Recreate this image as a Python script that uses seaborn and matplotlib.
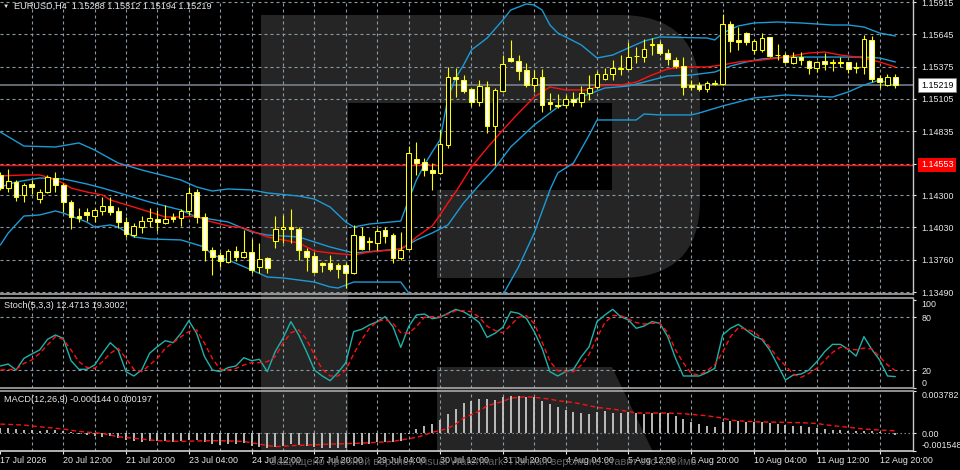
import numpy as np
import matplotlib
matplotlib.use("Agg")
import matplotlib.pyplot as plt
import matplotlib.transforms as mtransforms
from matplotlib.path import Path
from matplotlib.patches import PathPatch
import seaborn as sns

# ---------------- data ----------------
symbol_title = "EURUSD,H4  1.15288 1.15312 1.15194 1.15219"
stoch_title = "Stoch(5,3,3) 12.4713 19.3002"
macd_title = "MACD(12,26,9) -0.000144 0.000197"
watermark_text = "Защищено пробной версией Visual Watermark. Полная версия не ставит это клеймо."

open_ = [1.14469, 1.14360, 1.14410, 1.14302, 1.14394, 1.14268, 1.14327, 1.14444, 1.14385, 1.14243,
         1.14126, 1.14160, 1.14126, 1.14168, 1.14210, 1.14168, 1.14076, 1.13967, 1.14034, 1.14084,
         1.14101, 1.14068, 1.14118, 1.14110, 1.14168, 1.14327, 1.14118, 1.13842, 1.13800, 1.13742,
         1.13834, 1.13783, 1.13825, 1.13700, 1.13775, 1.13917, 1.14018, 1.14034, 1.14018, 1.13834,
         1.13792, 1.13733, 1.13733, 1.13717, 1.13717, 1.13650, 1.13959, 1.13909, 1.13901, 1.14009,
         1.13967, 1.13775, 1.13850, 1.14603, 1.14578, 1.14511, 1.14486, 1.14720, 1.15288, 1.15263,
         1.15188, 1.15079, 1.15205, 1.14879, 1.15171, 1.15447, 1.15422, 1.15347, 1.15221, 1.15288,
         1.15079, 1.15054, 1.15054, 1.15104, 1.15079, 1.15155, 1.15205, 1.15272, 1.15313, 1.15355,
         1.15355, 1.15464, 1.15455, 1.15556, 1.15564, 1.15489, 1.15430, 1.15380, 1.15221, 1.15221,
         1.15188, 1.15230, 1.15230, 1.15731, 1.15598, 1.15656, 1.15514, 1.15514, 1.15623, 1.15472,
         1.15472, 1.15405, 1.15455, 1.15422, 1.15364, 1.15422, 1.15405, 1.15410, 1.15414, 1.15372,
         1.15372, 1.15598, 1.15280, 1.15221, 1.15288]
high_ = [1.14494, 1.14519, 1.14427, 1.14402, 1.14427, 1.14352, 1.14469, 1.14494, 1.14402, 1.14260,
         1.14193, 1.14193, 1.14193, 1.14285, 1.14285, 1.14201, 1.14118, 1.14068, 1.14126, 1.14193,
         1.14176, 1.14218, 1.14151, 1.14185, 1.14369, 1.14352, 1.14151, 1.13867, 1.13825, 1.13850,
         1.13875, 1.14009, 1.13934, 1.13901, 1.13783, 1.14126, 1.14135, 1.14185, 1.14034, 1.13859,
         1.13825, 1.13742, 1.13800, 1.13733, 1.13733, 1.14051, 1.14034, 1.13951, 1.14026, 1.14034,
         1.13984, 1.13992, 1.14711, 1.14745, 1.14611, 1.14569, 1.14845, 1.15372, 1.15364, 1.15305,
         1.15196, 1.15263, 1.15255, 1.15196, 1.15472, 1.15598, 1.15472, 1.15405, 1.15347, 1.15355,
         1.15155, 1.15146, 1.15138, 1.15163, 1.15213, 1.15305, 1.15338, 1.15364, 1.15430, 1.15472,
         1.15581, 1.15539, 1.15606, 1.15614, 1.15589, 1.15522, 1.15455, 1.15455, 1.15263, 1.15246,
         1.15255, 1.15263, 1.15815, 1.15756, 1.15706, 1.15664, 1.15606, 1.15656, 1.15623, 1.15564,
         1.15489, 1.15497, 1.15497, 1.15430, 1.15422, 1.15489, 1.15439, 1.15455, 1.15414, 1.15414,
         1.15639, 1.15631, 1.15305, 1.15313, 1.15312]
low_ = [1.14344, 1.14327, 1.14252, 1.14243, 1.14310, 1.14235, 1.14319, 1.14327, 1.14160, 1.14018,
        1.14076, 1.14084, 1.14076, 1.14135, 1.14135, 1.14026, 1.13951, 1.13951, 1.13984, 1.14034,
        1.14001, 1.14059, 1.14076, 1.14043, 1.14135, 1.14068, 1.13750, 1.13633, 1.13700, 1.13733,
        1.13750, 1.13775, 1.13650, 1.13650, 1.13650, 1.13859, 1.13901, 1.13901, 1.13758, 1.13666,
        1.13650, 1.13658, 1.13666, 1.13608, 1.13524, 1.13641, 1.13842, 1.13842, 1.13842, 1.13901,
        1.13733, 1.13758, 1.13842, 1.14469, 1.14461, 1.14344, 1.14477, 1.14695, 1.15121, 1.15155,
        1.15046, 1.15046, 1.14820, 1.14553, 1.15163, 1.15414, 1.15263, 1.15205, 1.15163, 1.14996,
        1.15012, 1.15029, 1.15029, 1.15046, 1.15037, 1.15096, 1.15196, 1.15263, 1.15263, 1.15305,
        1.15347, 1.15405, 1.15414, 1.15472, 1.15472, 1.15389, 1.15364, 1.15138, 1.15180, 1.15171,
        1.15163, 1.15221, 1.15221, 1.15497, 1.15514, 1.15556, 1.15481, 1.15497, 1.15455, 1.15430,
        1.15405, 1.15397, 1.15389, 1.15313, 1.15330, 1.15347, 1.15338, 1.15372, 1.15322, 1.15322,
        1.15313, 1.15246, 1.15196, 1.15213, 1.15194]
close_ = [1.14360, 1.14419, 1.14285, 1.14385, 1.14369, 1.14327, 1.14452, 1.14385, 1.14243, 1.14118,
          1.14110, 1.14135, 1.14176, 1.14210, 1.14160, 1.14076, 1.13976, 1.14043, 1.14084, 1.14110,
          1.14076, 1.14101, 1.14101, 1.14168, 1.14319, 1.14118, 1.13842, 1.13783, 1.13750, 1.13834,
          1.13783, 1.13825, 1.13675, 1.13767, 1.13692, 1.14018, 1.14034, 1.14018, 1.13842, 1.13783,
          1.13658, 1.13717, 1.13683, 1.13683, 1.13650, 1.13967, 1.13850, 1.13917, 1.14001, 1.13959,
          1.13775, 1.13842, 1.14653, 1.14569, 1.14511, 1.14486, 1.14728, 1.15288, 1.15272, 1.15171,
          1.15079, 1.15213, 1.14879, 1.15180, 1.15397, 1.15422, 1.15338, 1.15221, 1.15280, 1.15054,
          1.15063, 1.15046, 1.15104, 1.15079, 1.15155, 1.15196, 1.15313, 1.15313, 1.15364, 1.15364,
          1.15455, 1.15462, 1.15522, 1.15564, 1.15489, 1.15439, 1.15380, 1.15205, 1.15205, 1.15188,
          1.15238, 1.15238, 1.15731, 1.15589, 1.15581, 1.15581, 1.15589, 1.15614, 1.15464, 1.15468,
          1.15414, 1.15455, 1.15430, 1.15364, 1.15414, 1.15397, 1.15414, 1.15405, 1.15355, 1.15364,
          1.15606, 1.15272, 1.15246, 1.15288, 1.15219]

# Bollinger bands and moving average (sampled at bar indices)
bb_up_bar = [0, 3, 7, 10, 12, 15, 18, 21, 23, 25, 27, 29, 32, 34, 38, 40, 42, 44, 45, 47, 51, 52, 53, 54, 55,
             56, 57, 58, 59, 60, 62, 64, 65, 67, 68, 69, 70, 71, 72, 74, 76, 78, 80, 82, 84, 90, 91, 92, 94, 96,
             99, 102, 106, 108, 110, 112, 114]
bb_up = [1.14828, 1.14711, 1.14703, 1.14737, 1.14678, 1.14569, 1.14511, 1.14461, 1.14427, 1.14369,
         1.14335, 1.14352, 1.14344, 1.14319, 1.14293, 1.14268, 1.14201, 1.14076, 1.14034, 1.14059,
         1.14084, 1.14260, 1.14427, 1.14553, 1.14661, 1.14762, 1.15113, 1.15280, 1.15389, 1.15514,
         1.15614, 1.15765, 1.15848, 1.15899, 1.15890, 1.15848, 1.15723, 1.15656, 1.15623, 1.15556,
         1.15447, 1.15472, 1.15531, 1.15589, 1.15623, 1.15614, 1.15598, 1.15656, 1.15715, 1.15740,
         1.15748, 1.15740, 1.15723, 1.15723, 1.15706, 1.15656, 1.15631]
bb_mid_bar = [0, 2, 5, 8, 11, 13, 16, 19, 23, 25, 29, 32, 34, 38, 42, 45, 48, 51, 53, 55, 57, 59, 61, 63, 65,
              68, 71, 74, 77, 80, 82, 85, 88, 91, 93, 95, 97, 100, 104, 107, 110, 112, 114]
bb_mid = [1.14369, 1.14410, 1.14444, 1.14436, 1.14394, 1.14360, 1.14302, 1.14243, 1.14176, 1.14118,
          1.14076, 1.13993, 1.13967, 1.13951, 1.13867, 1.13817, 1.13834, 1.13850, 1.13926, 1.13984,
          1.14051, 1.14235, 1.14385, 1.14528, 1.14703, 1.14887, 1.15037, 1.15121, 1.15196, 1.15213,
          1.15246, 1.15297, 1.15305, 1.15330, 1.15380, 1.15414, 1.15439, 1.15455, 1.15455, 1.15455,
          1.15455, 1.15447, 1.15414]
bb_low_bar = [0, 1, 3, 5, 7, 8, 11, 12, 14, 15, 17, 19, 23, 26, 27, 29, 32, 34, 36, 38, 40, 42, 43, 44, 45,
              51, 52, 53, 56, 60, 63, 64, 66, 68, 70, 71, 73, 75, 76, 81, 82, 84, 88, 89, 92, 96, 100, 106,
              108, 110, 112, 114]
bb_low = [1.13884, 1.13984, 1.14126, 1.14135, 1.14168, 1.14151, 1.14076, 1.14034, 1.14051, 1.14034,
          1.13951, 1.13934, 1.13926, 1.13867, 1.13800, 1.13758, 1.13675, 1.13616, 1.13608, 1.13591,
          1.13574, 1.13533, 1.13524, 1.13549, 1.13574, 1.13574, 1.13483, 1.13382, 1.13274, 1.13240,
          1.13382, 1.13466, 1.13700, 1.13984, 1.14344, 1.14486, 1.14569, 1.14803, 1.14929, 1.14929,
          1.14979, 1.14971, 1.14971, 1.14987, 1.15046, 1.15113, 1.15138, 1.15121, 1.15163, 1.15221,
          1.15263, 1.15213]
ma_bar = [0, 3, 5, 6, 8, 9, 11, 13, 14, 17, 19, 21, 23, 25, 26, 29, 31, 34, 36, 38, 40, 42, 45, 47, 51,
          52, 53, 55, 56, 57, 58, 60, 62, 64, 66, 68, 70, 72, 75, 76, 79, 81, 83, 85, 87, 90, 92, 94, 97,
          100, 103, 105, 107, 110, 112, 114]
ma_red = [1.14461, 1.14469, 1.14469, 1.14452, 1.14402, 1.14360, 1.14327, 1.14302, 1.14260, 1.14201,
          1.14160, 1.14118, 1.14118, 1.14126, 1.14093, 1.14043, 1.14026, 1.13951, 1.13926, 1.13901,
          1.13834, 1.13817, 1.13800, 1.13825, 1.13850, 1.13892, 1.13951, 1.14043, 1.14135, 1.14235,
          1.14327, 1.14536, 1.14695, 1.14845, 1.14987, 1.15121, 1.15205, 1.15180, 1.15180, 1.15213,
          1.15221, 1.15246, 1.15305, 1.15355, 1.15372, 1.15372, 1.15389, 1.15414, 1.15430, 1.15455,
          1.15489, 1.15497, 1.15472, 1.15447, 1.15414, 1.15372]

stoch_main = [24.6, 26.8, 20.0, 33.3, 38.2, 42.8, 54.9, 59.9, 56.1, 30.6,
              20.8, 20.8, 25.7, 39.0, 51.1, 42.8, 18.1, 13.2, 20.0, 39.0,
              46.6, 53.4, 51.1, 61.8, 76.2, 61.8, 35.2, 20.0, 18.1, 22.7,
              24.6, 34.0, 30.6, 32.2, 18.1, 40.9, 56.1, 75.1, 59.9, 40.9,
              20.0, 13.2, 7.8, 17.0, 28.4, 63.7, 66.3, 71.3, 75.1, 80.8,
              69.4, 45.8, 69.4, 82.7, 83.8, 78.5, 80.0, 84.6, 89.1, 86.4,
              81.0, 74.0, 57.2, 61.8, 68.6, 86.4, 84.6, 78.9, 63.7, 44.7,
              18.1, 13.2, 18.1, 20.8, 35.2, 46.6, 75.1, 82.7, 89.1, 80.8,
              77.0, 67.5, 70.1, 75.1, 73.2, 58.0, 33.3, 13.2, 13.2, 13.2,
              17.0, 21.9, 59.9, 67.5, 72.0, 65.6, 58.7, 54.9, 42.8, 25.7,
              8.6, 14.3, 15.4, 20.0, 29.5, 40.9, 49.2, 49.2, 43.5, 35.9,
              58.0, 43.5, 31.4, 13.2, 12.4713]
stoch_signal = [20.0, 20.4, 20.8, 27.6, 31.4, 39.0, 48.5, 58.0, 55.0, 42.8,
                29.5, 23.0, 21.9, 29.5, 39.0, 44.7, 33.3, 20.8, 18.1, 25.7,
                33.3, 44.7, 51.1, 58.0, 63.7, 65.6, 50.4, 33.3, 20.8, 20.0,
                21.9, 25.7, 28.4, 28.4, 29.5, 35.2, 50.4, 62.5, 65.6, 54.9,
                37.1, 20.8, 13.2, 13.2, 20.0, 38.2, 54.2, 67.5, 75.1, 77.7,
                73.2, 62.5, 61.8, 69.4, 80.0, 80.8, 80.8, 83.8, 87.6, 87.6,
                86.4, 80.0, 70.0, 65.0, 62.5, 71.0, 80.0, 82.0, 73.0, 52.0,
                30.0, 19.0, 18.0, 18.1, 25.7, 38.0, 57.0, 74.0, 82.0, 82.0,
                78.0, 74.0, 72.4, 73.2, 73.2, 62.5, 43.0, 28.0, 16.0, 14.3,
                19.0, 26.0, 40.0, 58.0, 68.0, 67.0, 63.0, 56.0, 46.0, 34.0,
                25.0, 15.4, 11.6, 16.2, 21.9, 31.0, 40.0, 46.0, 44.0, 43.0,
                45.0, 44.0, 35.0, 26.0, 19.3002]

macd_main = [0.00044, 0.00041, 0.00036, 0.00030, 0.00027, 0.00021, 0.00027, 0.00030, 0.00021, 0.00006,
             -0.00009, -0.00018, -0.00024, -0.00033, -0.00030, -0.00044, -0.00062, -0.00074, -0.00077, -0.00074,
             -0.00074, -0.00074, -0.00077, -0.00074, -0.00062, -0.00062, -0.00083, -0.00098, -0.00104, -0.00098,
             -0.00098, -0.00092, -0.00112, -0.00121, -0.00133, -0.00127, -0.00118, -0.00098, -0.00104, -0.00112,
             -0.00127, -0.00133, -0.00136, -0.00133, -0.00136, -0.00112, -0.00104, -0.00098, -0.00083, -0.00077,
             -0.00083, -0.00074, -0.00009, 0.00036, 0.00065, 0.00080, 0.00115, 0.00169, 0.00213, 0.00263,
             0.00287, 0.00302, 0.00302, 0.00293, 0.00317, 0.00329, 0.00332, 0.00323, 0.00317, 0.00287,
             0.00258, 0.00228, 0.00204, 0.00189, 0.00178, 0.00169, 0.00189, 0.00192, 0.00175, 0.00178,
             0.00184, 0.00178, 0.00169, 0.00175, 0.00175, 0.00175, 0.00154, 0.00124, 0.00095, 0.00080,
             0.00065, 0.00056, 0.00095, 0.00110, 0.00104, 0.00095, 0.00095, 0.00095, 0.00086, 0.00080,
             0.00071, 0.00065, 0.00059, 0.00050, 0.00044, 0.00036, 0.00030, 0.00027, 0.00021, 0.00015,
             0.00021, 0.00015, 0.00006, -0.00003, -0.000144]
macd_sig_bar = [0, 3, 5, 8, 10, 13, 15, 18, 20, 23, 26, 28, 31, 33, 35, 37, 40, 42, 45, 47, 50, 51, 53, 54, 55,
                57, 58, 59, 61, 62, 64, 65, 67, 68, 70, 71, 73, 74, 75, 76, 78, 80, 81, 83, 85, 87, 88, 90, 92,
                93, 95, 97, 98, 100, 102, 104, 105, 107, 109, 110, 112, 114]
macd_signal = [0.00080, 0.00071, 0.00056, 0.00036, 0.00015, -0.00003, -0.00033, -0.00053, -0.00068, -0.00074,
               -0.00068, -0.00068, -0.00074, -0.00098, -0.00121, -0.00112, -0.00104, -0.00098, -0.00092, -0.00086,
               -0.00074, -0.00062, -0.00038, -0.00018, 0.00006, 0.00041, 0.00080, 0.00133, 0.00195, 0.00243,
               0.00281, 0.00311, 0.00323, 0.00317, 0.00302, 0.00287, 0.00272, 0.00258, 0.00243, 0.00228,
               0.00213, 0.00192, 0.00178, 0.00178, 0.00178, 0.00172, 0.00166, 0.00154, 0.00133, 0.00115,
               0.00104, 0.00098, 0.00098, 0.00095, 0.00092, 0.00086, 0.00074, 0.00059, 0.00044, 0.00036,
               0.00027, 0.000197]

price_grid = [1.15915, 1.15645, 1.15375, 1.15105, 1.14835, 1.14565, 1.14300, 1.14030, 1.13760, 1.13490]
price_labels = ["1.15915", "1.15645", "1.15375", "1.15105", "1.14835", "", "1.14300", "1.14030", "1.13760", "1.13490"]
bid_price = 1.15219
level_price = 1.14553
time_label_bar = [0, 8, 16, 24, 32, 40, 48, 56, 64, 72, 80, 88, 96, 104, 112]
time_labels = ["17 Jul 2026", "20 Jul 12:00", "21 Jul 20:00", "23 Jul 04:00", "24 Jul 12:00",
               "27 Jul 20:00", "29 Jul 04:00", "30 Jul 12:00", "31 Jul 20:00", "4 Aug 04:00",
               "5 Aug 12:00", "6 Aug 20:00", "10 Aug 04:00", "11 Aug 12:00", "12 Aug 20:00"]
stoch_ticks = [0, 20, 80, 100]
macd_ticks = [-0.001548, 0.0, 0.003782]
macd_tick_labels = ["-0.001548", "0.00", "0.003782"]

# ---------------- style ----------------
sns.set_theme(style="dark", rc={"axes.facecolor": "none", "figure.facecolor": "black",
                                "axes.grid": False, "axes.edgecolor": "#b4b4b4"})
plt.rcParams["font.family"] = ["Liberation Sans", "DejaVu Sans"]

YELLOW = "#ffff00"
BLUE = "#1c9ad6"
RED = "#ff1010"
GRID = "#8c98a4"
TXT = "#e8e8e8"
FS = 6.4

W, H = 960, 470
fig = plt.figure(figsize=(9.6, 4.7), dpi=100)
fig.patch.set_facecolor("black")


def frame(top, bottom, right=913):
    return [0, 1 - bottom / H, right / W, (bottom - top) / H]


ax1 = fig.add_axes(frame(0, 294))
ax2 = fig.add_axes(frame(297.5, 388), sharex=ax1)
ax3 = fig.add_axes(frame(390.5, 450.5), sharex=ax1)

# watermark logo (decorative, in figure pixels)
pix = mtransforms.Affine2D().scale(1 / W, -1 / H).translate(0, 1) + fig.transFigure
verts = [(261, 15), (620, 15), (700, 15), (700, 95), (700, 200), (700, 278), (620, 278),
         (437, 278), (437, 190), (612, 190), (612, 103), (348, 103), (348, 452), (261, 452), (261, 15)]
codes = [Path.MOVETO, Path.LINETO, Path.CURVE3, Path.CURVE3, Path.LINETO, Path.CURVE3, Path.CURVE3,
         Path.LINETO, Path.LINETO, Path.LINETO, Path.LINETO, Path.LINETO, Path.LINETO, Path.LINETO,
         Path.CLOSEPOLY]
logo = PathPatch(Path(verts, codes), facecolor="#252525", edgecolor="none", transform=pix, zorder=-5)
leg = PathPatch(Path([(437, 367), (612, 367), (653, 452), (437, 452), (437, 367)],
                     [Path.MOVETO, Path.LINETO, Path.LINETO, Path.LINETO, Path.CLOSEPOLY]),
                facecolor="#252525", edgecolor="none", transform=pix, zorder=-5)
fig.patches.extend([logo, leg])

bars = np.arange(len(open_))
O = np.array(open_); Hh = np.array(high_); L = np.array(low_); C = np.array(close_)
vgrid = np.arange(4, 113, 4)


def grid_style(ax):
    for v in vgrid:
        ax.axvline(v, color=GRID, lw=0.8, ls=(0, (2.7, 2.7)), zorder=1)


# ---------------- main price panel ----------------
grid_style(ax1)
for p in price_grid:
    ax1.axhline(p, color=GRID, lw=0.8, ls=(0, (2.7, 2.7)), zorder=1)
ax1.axhline(bid_price, color="#7d8793", lw=1.1, zorder=2)
ax1.axhline(level_price, color=RED, lw=1.0, zorder=2)

sns.lineplot(x=bb_up_bar, y=bb_up, ax=ax1, color=BLUE, lw=1.0, zorder=3)
sns.lineplot(x=bb_mid_bar, y=bb_mid, ax=ax1, color=BLUE, lw=1.0, zorder=3)
sns.lineplot(x=bb_low_bar, y=bb_low, ax=ax1, color=BLUE, lw=1.0, zorder=3)
sns.lineplot(x=ma_bar, y=ma_red, ax=ax1, color=RED, lw=1.0, zorder=3)

ax1.vlines(bars, L, Hh, color=YELLOW, lw=0.8, zorder=4)
lo = np.minimum(O, C)
hgt = np.maximum(np.abs(C - O), 0.00002)
bull = C >= O
ax1.bar(bars[bull], hgt[bull], bottom=lo[bull], width=0.6, facecolor="black",
        edgecolor=YELLOW, lw=0.75, zorder=5)
ax1.bar(bars[~bull], hgt[~bull], bottom=lo[~bull], width=0.6, facecolor="white",
        edgecolor=YELLOW, lw=0.75, zorder=5)

ax1.set_ylim(1.13474, 1.15932)
ax1.set_xlim(-0.05, 116.25)
ax1.yaxis.tick_right()
ax1.set_yticks(price_grid)
ax1.set_yticklabels(price_labels)
ax1.tick_params(axis="y", right=True, left=False, labelright=True, labelleft=False, length=2.5,
                width=0.8, pad=3.4, labelsize=FS, colors=TXT)
ax1.tick_params(axis="x", bottom=False, labelbottom=False)

ytr = mtransforms.blended_transform_factory(ax1.transAxes, ax1.transData)
ax1.text(1 + 8 / 913, bid_price, "1.15219", transform=ytr, fontsize=FS, color="black", va="center",
         ha="left", bbox=dict(boxstyle="square,pad=0.3", facecolor="white", edgecolor="#808080", lw=0.6),
         zorder=10, clip_on=False)
ax1.text(1 + 8 / 913, level_price, "1.14553", transform=ytr, fontsize=FS, color="white", va="center",
         ha="left", bbox=dict(boxstyle="square,pad=0.3", facecolor="#ff0000", edgecolor="none"),
         zorder=10, clip_on=False)

# ---------------- stochastic panel ----------------
grid_style(ax2)
for v in (20, 80):
    ax2.axhline(v, color=GRID, lw=0.8, ls=(0, (2.7, 2.7)), zorder=1)
sns.lineplot(x=bars, y=stoch_main, ax=ax2, color="#20b2aa", lw=1.0, zorder=3)
sns.lineplot(x=bars, y=stoch_signal, ax=ax2, color=RED, lw=1.0, zorder=3)
ax2.lines[-1].set_linestyle((0, (3.5, 2.2)))
ax2.set_ylim(-0.5, 102.6)
ax2.yaxis.tick_right()
ax2.set_yticks(stoch_ticks)
ax2.set_yticklabels([str(t) for t in stoch_ticks])
ax2.tick_params(axis="y", right=True, left=False, labelright=True, labelleft=False, length=2.5,
                width=0.8, pad=3.4, labelsize=FS, colors=TXT)
ax2.tick_params(axis="x", bottom=False, labelbottom=False)
tl = ax2.get_yticklabels()
tl[0].set_va("bottom")
tl[-1].set_va("top")

# ---------------- MACD panel ----------------
grid_style(ax3)
ax3.axhline(0, color=GRID, lw=0.8, ls=(0, (1.2, 2.4)), zorder=1)
ax3.vlines(bars, 0, macd_main, color="#c8c8c8", lw=1.3, zorder=3)
sns.lineplot(x=macd_sig_bar, y=macd_signal, ax=ax3, color=RED, lw=1.0, zorder=4)
ax3.lines[-1].set_linestyle((0, (3.5, 2.2)))
ax3.set_ylim(-0.001548, 0.003782)
ax3.yaxis.tick_right()
ax3.set_yticks(macd_ticks)
ax3.set_yticklabels(macd_tick_labels)
ax3.tick_params(axis="y", right=True, left=False, labelright=True, labelleft=False, length=2.5,
                width=0.8, pad=3.4, labelsize=FS, colors=TXT)
ml = ax3.get_yticklabels()
ml[0].set_va("bottom")
ml[-1].set_va("top")
ax3.set_xticks(time_label_bar)
ax3.set_xticklabels(time_labels)
ax3.tick_params(axis="x", bottom=True, length=2.5, width=0.8, pad=1.5, labelsize=FS, colors=TXT)
for t in ax3.get_xticklabels():
    t.set_ha("left")
ax3.set_xlim(-0.05, 116.25)

for ax in (ax1, ax2, ax3):
    ax.set_xlabel("")
    ax.set_ylabel("")
    ax.spines["left"].set_visible(False)
    ax.spines["right"].set_color("#c8c8c8")
    ax.spines["right"].set_linewidth(1.0)
    for s in ("top", "bottom"):
        ax.spines[s].set_color("#a8a8a8")
        ax.spines[s].set_linewidth(1.2)
ax1.spines["top"].set_visible(False)
ax3.spines["bottom"].set_color("#d0d0d0")

# ---------------- texts ----------------
fig.text(3 / W, 1 - 6.5 / H, "▼", fontsize=4.5, color=TXT, va="center", ha="left")
fig.text(14 / W, 1 - 6.5 / H, symbol_title, fontsize=6.6, color=TXT, va="center", ha="left")
fig.text(4 / W, 1 - 306 / H, stoch_title, fontsize=6.6, color=TXT, va="center", ha="left")
fig.text(4 / W, 1 - 400 / H, macd_title, fontsize=6.6, color=TXT, va="center", ha="left")
fig.text(485 / W, 1 - 462 / H, watermark_text, fontsize=7.8, color="#6e6e6e", alpha=0.9,
         va="center", ha="center", zorder=20)

fig.savefig("out.png", dpi=100, facecolor="black")
